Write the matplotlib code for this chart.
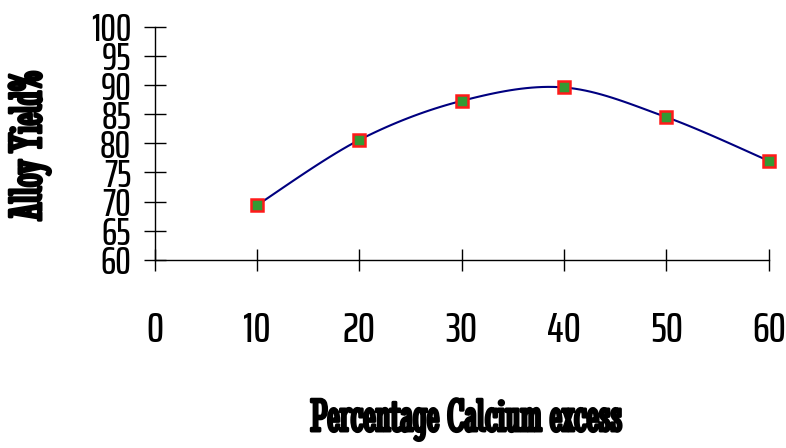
import numpy as np
import matplotlib
matplotlib.use("Agg")
import matplotlib.pyplot as plt
import matplotlib.patheffects as pe

plt.rcParams['font.family'] = ['Saira ExtraCondensed', 'DejaVu Sans']

calcium = [10, 20, 30, 40, 50, 60]
alloy_yield = [69.4, 80.6, 87.3, 89.6, 84.5, 77.0]
x_ticks = [0, 10, 20, 30, 40, 50, 60]
y_ticks = [60, 65, 70, 75, 80, 85, 90, 95, 100]


def catmull_rom(xs, ys, n=20):
    # smoothed line like the spreadsheet "smooth line" option
    p = np.column_stack([xs, ys]).astype(float)
    p = np.vstack([p[0], p, p[-1]])
    out = []
    t = np.linspace(0, 1, n)[:, None]
    for i in range(1, len(p) - 2):
        p0, p1, p2, p3 = p[i - 1], p[i], p[i + 1], p[i + 2]
        seg = 0.5 * ((2 * p1) + (-p0 + p2) * t + (2 * p0 - 5 * p1 + 4 * p2 - p3) * t ** 2
                     + (-p0 + 3 * p1 - 3 * p2 + p3) * t ** 3)
        out.append(seg)
    out = np.vstack(out)
    return out[:, 0], out[:, 1]


fig = plt.figure(figsize=(7.86, 4.48), dpi=100)
ax = fig.add_axes([0.197, 0.42, 0.781, 0.52])

sx, sy = catmull_rom(calcium, alloy_yield)
ax.plot(sx, sy, color='#000080', lw=1.5, zorder=2)
ax.plot(calcium, alloy_yield, ls='none', marker='s', ms=9, mfc='#339933',
        mec='#ff1a1a', mew=1.8, zorder=3, clip_on=False)

ax.set_xlim(0, 60)
ax.set_ylim(60, 100)
for s in ['top', 'right']:
    ax.spines[s].set_visible(False)
for s in ['left', 'bottom']:
    ax.spines[s].set_linewidth(1.0)
    ax.spines[s].set_color('black')

ax.set_xticks(x_ticks)
ax.set_yticks(y_ticks)
ax.tick_params(axis='y', direction='inout', length=16, width=1, pad=9, labelsize=28)
ax.tick_params(axis='x', direction='inout', length=16, width=1, pad=28, labelsize=31)
for t in ax.get_xticklabels() + ax.get_yticklabels():
    t.set_fontweight('medium')

lab_font = ['Stint Ultra Condensed', 'DejaVu Serif']
heavy = [pe.withStroke(linewidth=2.2, foreground='black')]
ax.set_xlabel('Percentage Calcium excess', fontsize=34, fontweight='bold',
              family=lab_font, path_effects=heavy)
ax.set_ylabel('Alloy Yield%', fontsize=34, fontweight='bold',
              family=lab_font, path_effects=heavy)
ax.xaxis.set_label_coords(0.508, -0.595)
ax.yaxis.set_label_coords(-0.17, 0.49)

fig.savefig('out.png', dpi=100)
